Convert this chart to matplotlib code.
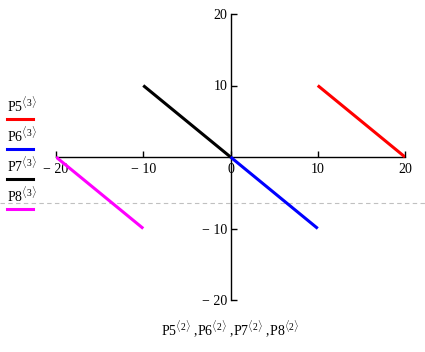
import matplotlib
matplotlib.use('Agg')
from matplotlib import pyplot as plt
from matplotlib.lines import Line2D

plt.rcParams.update({'font.family': 'Liberation Serif', 'font.size': 10,
                     'mathtext.fontset': 'custom',
                     'mathtext.rm': 'Liberation Serif',
                     'mathtext.it': 'Liberation Serif:italic'})

# matrix columns P5..P8 (column 2 = x, column 3 = y)
p5_x = [10, 20]
p5_y = [10, 0]
p6_x = [0, 10]
p6_y = [0, -10]
p7_x = [-10, 0]
p7_y = [10, 0]
p8_x = [-20, -10]
p8_y = [0, -10]

names = ['P5', 'P6', 'P7', 'P8']
colors = ['red', 'blue', 'black', 'magenta']
x_ticks = [-20, -10, 0, 10, 20]
y_ticks = [-20, -10, 10, 20]

W, H = 425, 352
fig = plt.figure(figsize=(W / 100, H / 100), dpi=100)
ax = fig.add_axes([56 / W, (H - 300) / H, 349 / W, 286 / H])

for xs, ys, c in zip([p5_x, p6_x, p7_x, p8_x], [p5_y, p6_y, p7_y, p8_y], colors):
    ax.plot(xs, ys, color=c, lw=2.2, solid_capstyle='butt', zorder=3)

ax.set_xlim(-20, 20)
ax.set_ylim(-20, 20)
ax.spines['left'].set_position('zero')
ax.spines['bottom'].set_position('zero')
ax.spines['top'].set_visible(False)
ax.spines['right'].set_visible(False)
for s in ['left', 'bottom']:
    ax.spines[s].set_linewidth(1.0)
    ax.spines[s].set_color('black')

ax.set_xticks(x_ticks)
ax.set_xticklabels([str(v).replace('-', '\u2212 ') for v in x_ticks])
ax.set_yticks(y_ticks)
ax.set_yticklabels([str(v).replace('-', '\u2212 ') for v in y_ticks])
ax.tick_params(axis='both', direction='in', length=4, width=1, labelsize=10, pad=2)
ax.tick_params(axis='x', pad=4)
for lbl in ax.get_xticklabels():
    if lbl.get_text() == '0':
        lbl.set_x(0.35)

ax.set_xlabel(r'P5$^{\langle 2\rangle}$ ,P6$^{\langle 2\rangle}$ ,P7$^{\langle 2\rangle}$ ,P8$^{\langle 2\rangle}$',
              fontsize=10)
ax.xaxis.set_label_coords(0.5, -0.065)
ax.patch.set_alpha(0)

# legend on the left, Mathcad style
for i, (n, c) in enumerate(zip(names, colors)):
    ty = 105 + i * 30
    fig.text(7 / W, 1 - ty / H, n + r'$^{\langle 3\rangle}$', fontsize=10, va='center', ha='left')
    ly = 1 - (ty + 14) / H
    fig.add_artist(Line2D([7 / W, 33 / W], [ly, ly], color=c, lw=2.2,
                          transform=fig.transFigure))

# dashed region separator
fig.add_artist(Line2D([0, 1], [1 - 203 / H, 1 - 203 / H], color='#c0c0c0', lw=0.8,
                      ls=(0, (4, 3)), transform=fig.transFigure, zorder=0))

plt.savefig('out.png', dpi=100)
